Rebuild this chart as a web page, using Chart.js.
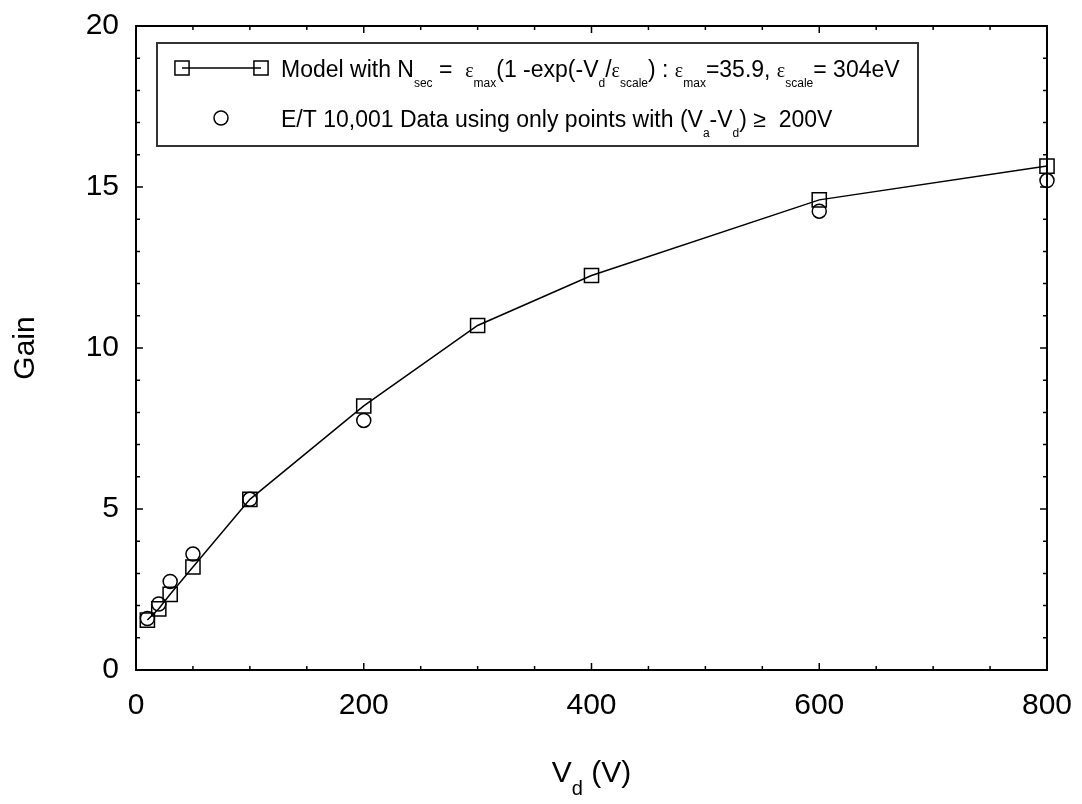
<!DOCTYPE html>
<html>
<head>
<meta charset="utf-8">
<script src="https://cdn.jsdelivr.net/npm/chart.js@4"></script>
<style>
html, body { margin: 0; padding: 0; background: #fff; }
</style>
</head>
<body>
<canvas id="grafico" width="1082" height="804"></canvas>
<script>
// valores
const vdModelo = [10, 20, 30, 50, 100, 200, 300, 400, 600, 800];
const ganhoModelo = [1.55, 1.9, 2.35, 3.2, 5.3, 8.2, 10.7, 12.25, 14.6, 15.65];
const vdDados = [10, 20, 30, 50, 100, 200, 600, 800];
const ganhoDados = [1.6, 2.05, 2.75, 3.6, 5.3, 7.75, 14.25, 15.2];
const ticksX = [0, 200, 400, 600, 800];
const ticksY = [0, 5, 10, 15, 20];

const FAMILIA = '"Liberation Sans", Arial, sans-serif';
const SERIFA = '"Liberation Serif", "Times New Roman", serif';

// legenda: [texto, tipo]  n = normal, s = subscrito, e = epsilon
const legendaModelo = [
    ['Model with N', 'n'], ['sec', 's'], [' =  ', 'n'], ['\u03b5', 'e'], ['max', 's'],
    ['(1 -exp(-V', 'n'], ['d', 's'], ['/', 'n'], ['\u03b5', 'e'], ['scale', 's'],
    [') : ', 'n'], ['\u03b5', 'e'], ['max', 's'], ['=35.9, ', 'n'], ['\u03b5', 'e'],
    ['scale', 's'], ['= 304eV', 'n']
];
const legendaDados = [
    ['E/T 10,001 Data using only points with (V', 'n'], ['a', 's'], ['-V', 'n'],
    ['d', 's'], [') \u2265  200V', 'n']
];
const tituloX = [['V', 'n'], ['d', 's'], [' (V)', 'n']];

function fonteDe(tipo, tam, sub) {
    if (tipo === 's') return Math.round(tam * sub) + 'px ' + FAMILIA;
    if (tipo === 'e') return Math.round(tam * 0.85) + 'px ' + SERIFA;
    return tam + 'px ' + FAMILIA;
}

function larguraRica(ctx, partes, tam, sub) {
    let w = 0;
    partes.forEach(([txt, tipo]) => {
        ctx.font = fonteDe(tipo, tam, sub);
        w += ctx.measureText(txt).width;
    });
    return w;
}

function escreveRico(ctx, partes, x, y, tam, sub) {
    partes.forEach(([txt, tipo]) => {
        ctx.font = fonteDe(tipo, tam, sub);
        const dy = tipo === 's' ? tam * 0.42 : 0;
        ctx.fillText(txt, x, y + dy);
        x += ctx.measureText(txt).width;
    });
    return x;
}

const molduraPlugin = {
    id: 'moldura',
    afterDraw(chart) {
        const ctx = chart.ctx;
        const a = chart.chartArea;
        const sx = chart.scales.x;
        const sy = chart.scales.y;
        ctx.save();
        ctx.strokeStyle = '#000';
        ctx.lineWidth = 2;
        ctx.strokeRect(a.left, a.top, a.right - a.left, a.bottom - a.top);

        // ticks para dentro nos quatro lados
        ctx.lineWidth = 1.5;
        ctx.beginPath();
        for (let v = 0; v <= 800; v += 50) {
            const px = sx.getPixelForValue(v);
            const t = v % 200 === 0 ? 7 : 4;
            ctx.moveTo(px, a.bottom); ctx.lineTo(px, a.bottom - t);
            ctx.moveTo(px, a.top); ctx.lineTo(px, a.top + t);
        }
        for (let v = 0; v <= 20; v += 1) {
            const py = sy.getPixelForValue(v);
            const t = v % 5 === 0 ? 7 : 4;
            ctx.moveTo(a.left, py); ctx.lineTo(a.left + t, py);
            ctx.moveTo(a.right, py); ctx.lineTo(a.right - t, py);
        }
        ctx.stroke();

        // caixa da legenda
        ctx.strokeStyle = '#333';
        ctx.lineWidth = 2;
        ctx.strokeRect(157, 43, 761, 103);

        ctx.strokeStyle = '#000';
        ctx.lineWidth = 1.5;
        ctx.beginPath();
        ctx.moveTo(182, 68); ctx.lineTo(261, 68);
        ctx.stroke();
        const ds0 = chart.data.datasets[0];
        const ds1 = chart.data.datasets[1];
        const optQ = { pointStyle: 'rect', radius: ds0.pointRadius, borderWidth: ds0.pointBorderWidth };
        const optC = { pointStyle: 'circle', radius: ds1.pointRadius, borderWidth: ds1.pointBorderWidth };
        ctx.fillStyle = 'rgba(0,0,0,0)';
        Chart.helpers.drawPoint(ctx, optQ, 182, 68);
        Chart.helpers.drawPoint(ctx, optQ, 261, 68);
        Chart.helpers.drawPoint(ctx, optC, 221, 118);

        ctx.fillStyle = '#000';
        ctx.textBaseline = 'alphabetic';
        ctx.textAlign = 'left';
        escreveRico(ctx, legendaModelo, 281, 77, 23, 0.5);
        escreveRico(ctx, legendaDados, 281, 127, 23, 0.5);

        // titulos dos eixos
        const wx = larguraRica(ctx, tituloX, 30, 0.65);
        escreveRico(ctx, tituloX, (a.left + a.right) / 2 - wx / 2, 782, 30, 0.65);

        ctx.translate(26, (a.top + a.bottom) / 2);
        ctx.rotate(-Math.PI / 2);
        ctx.font = '30px ' + FAMILIA;
        ctx.textAlign = 'center';
        ctx.textBaseline = 'middle';
        ctx.fillText('Gain', 0, 0);
        ctx.restore();
    }
};

new Chart(document.getElementById('grafico'), {
    type: 'scatter',
    data: {
        datasets: [{
            label: 'Model',
            data: vdModelo.map((v, i) => ({ x: v, y: ganhoModelo[i] })),
            showLine: true,
            borderColor: '#000',
            borderWidth: 1.5,
            pointStyle: 'rect',
            pointRadius: 10,
            pointBorderWidth: 1.5,
            pointBorderColor: '#000',
            pointBackgroundColor: 'rgba(0,0,0,0)',
            clip: false
        }, {
            label: 'E/T 10,001 Data',
            data: vdDados.map((v, i) => ({ x: v, y: ganhoDados[i] })),
            showLine: false,
            pointStyle: 'circle',
            pointRadius: 7,
            pointBorderWidth: 1.5,
            pointBorderColor: '#000',
            pointBackgroundColor: 'rgba(0,0,0,0)',
            clip: false
        }]
    },
    options: {
        responsive: false,
        animation: false,
        devicePixelRatio: 1,
        layout: { padding: { top: 26, right: 35, bottom: 0, left: 0 } },
        plugins: {
            legend: { display: false },
            tooltip: { enabled: false }
        },
        scales: {
            x: {
                type: 'linear',
                min: 0,
                max: 800,
                afterBuildTicks: s => { s.ticks = ticksX.map(v => ({ value: v })); },
                afterFit: s => { s.height = 134; s.paddingLeft = 0; s.paddingRight = 0; },
                grid: { display: false, drawTicks: false },
                border: { display: false },
                ticks: {
                    color: '#000',
                    padding: 18,
                    maxRotation: 0,
                    font: { family: FAMILIA, size: 30 }
                }
            },
            y: {
                type: 'linear',
                min: 0,
                max: 20,
                afterBuildTicks: s => { s.ticks = ticksY.map(v => ({ value: v })); },
                afterFit: s => { s.width = 136; s.paddingTop = 0; s.paddingBottom = 0; },
                grid: { display: false, drawTicks: false },
                border: { display: false },
                ticks: {
                    color: '#000',
                    padding: 17,
                    font: { family: FAMILIA, size: 30 }
                }
            }
        }
    },
    plugins: [molduraPlugin]
});
</script>
</body>
</html>
